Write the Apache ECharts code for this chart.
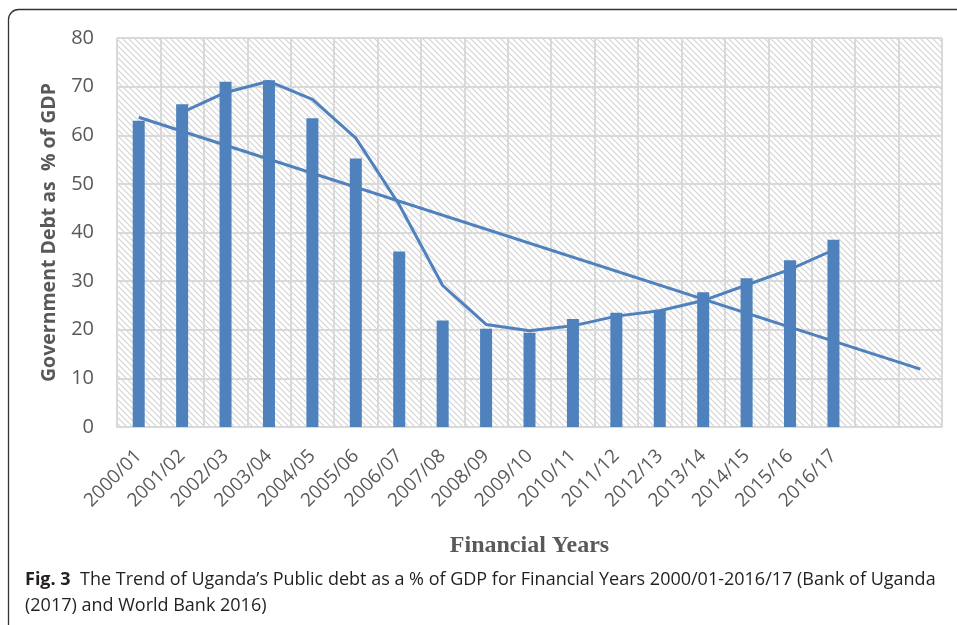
<!DOCTYPE html>
<html>
<head>
<meta charset="utf-8">
<script src="https://cdn.jsdelivr.net/npm/echarts@6/dist/echarts.min.js"></script>
<style>
html,body{margin:0;padding:0;background:#fff;}
#chart{width:957px;height:625px;}
</style>
</head>
<body>
<div id="chart"></div>
<script>
var categories = ['2000/01','2001/02','2002/03','2003/04','2004/05','2005/06','2006/07','2007/08','2008/09','2009/10','2010/11','2011/12','2012/13','2013/14','2014/15','2015/16','2016/17',' ','  '];
var debtValues = [63.0, 66.4, 71.0, 71.3, 63.5, 55.2, 36.1, 21.9, 20.2, 19.4, 22.2, 23.5, 24.1, 27.7, 30.6, 34.3, 38.5];
var movingAvg = [null, 64.7, 68.8, 71.1, 67.4, 59.4, 45.7, 29.1, 21.1, 19.8, 20.8, 22.8, 23.9, 26.0, 29.2, 32.4, 36.4];
var linearTrendStart = [0, 63.7];
var linearTrendEnd = [18, 11.9];
var yTicks = [0, 10, 20, 30, 40, 50, 60, 70, 80];

var pat = document.createElement('canvas');
pat.width = 6; pat.height = 6;
var pc = pat.getContext('2d');
pc.fillStyle = '#ffffff';
pc.fillRect(0,0,6,6);
pc.strokeStyle = '#d4d4d4';
pc.lineWidth = 1.2;
pc.beginPath();
pc.moveTo(-1,-1); pc.lineTo(7,7);
pc.moveTo(-4,2); pc.lineTo(2,8);
pc.moveTo(2,-4); pc.lineTo(8,2);
pc.stroke();

var chart = echarts.init(document.getElementById('chart'), null, {renderer:'canvas'});
var blue = '#4f81bd';
var option = {
  animation: false,
  backgroundColor: '#ffffff',
  grid: {
    show: true, left: 117, right: 15, top: 38, bottom: 198,
    backgroundColor: {image: pat, repeat: 'repeat'},
    borderWidth: 0
  },
  xAxis: {
    type: 'category', data: categories, boundaryGap: true,
    name: 'Financial Years', nameLocation: 'middle', nameGap: 107,
    nameTextStyle: {fontFamily: 'Liberation Serif', fontWeight: 'bold', fontSize: 24, color: '#595959'},
    axisLine: {show: true, lineStyle: {color: '#d9d9d9', width: 2}},
    axisTick: {show: false},
    splitLine: {show: true, lineStyle: {color: '#d9d9d9', width: 2}},
    axisLabel: {interval: 0, rotate: 45, fontFamily: 'Open Sans', fontSize: 19, color: '#595959', margin: 26}
  },
  yAxis: {
    type: 'value', min: 0, max: 80, interval: 10,
    name: 'Government Debt as  % of GDP', nameLocation: 'middle', nameGap: 58, nameRotate: 90,
    nameTextStyle: {fontFamily: 'Open Sans', fontWeight: 'bold', fontSize: 19.5, color: '#595959'},
    axisLine: {show: false}, axisTick: {show: false},
    splitLine: {show: true, lineStyle: {color: '#d9d9d9', width: 2}},
    axisLabel: {fontFamily: 'Open Sans', fontSize: 20, color: '#595959', margin: 23,
      formatter: function(v){ return yTicks.indexOf(v) >= 0 ? String(v) : ''; }}
  },
  series: [
    {type: 'bar', data: debtValues, barWidth: 12, itemStyle: {color: blue}, z: 2},
    {type: 'line', data: movingAvg, symbol: 'none', lineStyle: {color: blue, width: 3}, z: 3, connectNulls: false},
    {type: 'line', data: [linearTrendStart, linearTrendEnd], symbol: 'none', lineStyle: {color: blue, width: 3}, z: 3}
  ],
  graphic: [
    {type: 'rect', shape: {x: 8.5, y: 9.5, width: 990, height: 660, r: 10}, style: {fill: 'none', stroke: '#333', lineWidth: 1.3}, z: -1},
    {type: 'text', left: 25, top: 567, style: {
      text: '{b|Fig. 3}  The Trend of Uganda\u2019s Public debt as a % of GDP for Financial Years 2000/01-2016/17 (Bank of Uganda\n(2017) and World Bank 2016)',
      fontFamily: 'Open Sans', fontSize: 18, fill: '#231f20', lineHeight: 26,
      rich: {b: {fontFamily: 'Open Sans', fontWeight: 'bold', fontSize: 18, fill: '#231f20'}}
    }}
  ]
};
chart.setOption(option);
</script>
</body>
</html>
